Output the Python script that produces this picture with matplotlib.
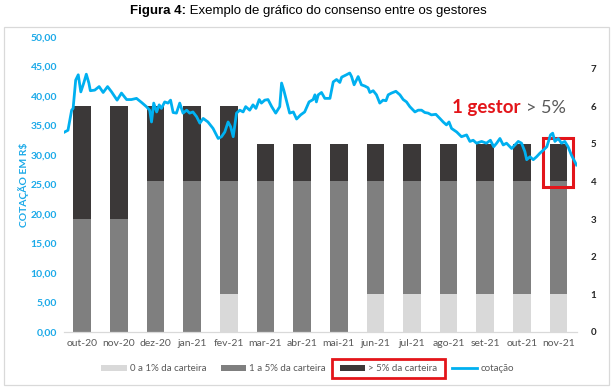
import matplotlib
matplotlib.use("Agg")
import matplotlib.pyplot as plt
from matplotlib.patches import Rectangle
import numpy as np

months = ["out-20", "nov-20", "dez-20", "jan-21", "fev-21", "mar-21", "abr-21",
          "mai-21", "jun-21", "jul-21", "ago-21", "set-21", "out-21", "nov-21"]
low = [0, 0, 0, 0, 1, 0, 0, 0, 1, 1, 1, 1, 1, 1]      # 0 a 1% da carteira
mid = [3, 3, 4, 4, 3, 4, 4, 4, 3, 3, 3, 3, 3, 3]      # 1 a 5% da carteira
high = [3, 3, 2, 2, 2, 1, 1, 1, 1, 1, 1, 1, 1, 1]     # > 5% da carteira

# cotação (time in months from out-20, price R$)
price_t = [-0.48, -0.39, -0.29, -0.25, -0.18, -0.11, -0.04, 0.04, 0.11, 0.18, 0.22,
           0.34, 0.46, 0.57, 0.69, 0.80, 0.95, 1.07, 1.21, 1.34, 1.48, 1.62, 1.75,
           1.84, 1.89, 1.95, 2.03, 2.10, 2.16, 2.25, 2.34, 2.41, 2.48, 2.57, 2.66,
           2.75, 2.85, 2.93, 3.02, 3.12, 3.21, 3.30, 3.43, 3.57, 3.71, 3.80, 3.89,
           3.98, 4.05, 4.12, 4.21, 4.30, 4.39, 4.46, 4.57, 4.66, 4.74, 4.83, 4.89,
           4.98, 5.07, 5.17, 5.28, 5.39, 5.44, 5.50, 5.57, 5.66, 5.76, 5.85, 5.96,
           6.07, 6.19, 6.30, 6.35, 6.39, 6.44, 6.53, 6.62, 6.76, 6.85, 6.94, 7.03,
           7.08, 7.21, 7.30, 7.35, 7.42, 7.53, 7.62, 7.71, 7.80, 7.85, 7.94, 8.03,
           8.12, 8.21, 8.29, 8.35, 8.44, 8.56, 8.67, 8.76, 8.85, 8.94, 9.08, 9.17,
           9.26, 9.35, 9.44, 9.53, 9.65, 9.76, 9.85, 9.94, 10.01, 10.08, 10.22,
           10.35, 10.49, 10.58, 10.67, 10.76, 10.90, 11.03, 11.14, 11.23, 11.31,
           11.40, 11.49, 11.58, 11.72, 11.81, 11.90, 11.99, 12.08, 12.13, 12.22,
           12.31, 12.40, 12.49, 12.58, 12.68, 12.78, 12.84, 12.90, 12.99, 13.08,
           13.17, 13.26, 13.35, 13.44, 13.49]
price_v = [33.9, 34.2, 37.6, 37.9, 42.7, 43.6, 40.7, 42.2, 43.7, 42.2, 40.9,
           41.0, 41.6, 40.6, 41.6, 40.7, 39.3, 40.5, 39.4, 39.4, 39.6, 38.9, 38.2,
           37.6, 35.6, 38.8, 37.3, 38.5, 37.9, 39.0, 38.8, 39.3, 37.2, 37.1, 38.8,
           37.1, 37.6, 37.1, 37.3, 36.5, 35.4, 36.2, 35.6, 34.5, 32.8, 33.1, 33.9,
           35.6, 34.8, 33.1, 37.1, 37.6, 37.3, 38.2, 37.6, 38.5, 37.9, 39.4, 38.8,
           39.3, 39.4, 38.2, 37.1, 38.2, 42.2, 41.0, 39.3, 37.1, 37.3, 36.1, 36.8,
           37.3, 39.0, 39.4, 40.2, 39.0, 40.2, 40.6, 39.6, 39.6, 42.4, 42.8, 42.3,
           43.2, 43.6, 43.9, 43.3, 41.9, 43.3, 41.9, 41.7, 41.4, 40.6, 40.9, 40.2,
           38.8, 39.3, 39.2, 40.2, 40.5, 40.8, 40.2, 39.4, 39.0, 38.2, 37.3, 37.6,
           37.6, 37.2, 37.1, 36.8, 36.9, 36.2, 35.6, 35.1, 35.6, 34.5, 33.9,
           33.1, 33.4, 32.3, 32.5, 32.0, 32.3, 32.0, 32.5, 31.4, 32.0,
           32.8, 31.7, 32.0, 31.1, 31.7, 32.3, 32.0, 30.6, 29.2, 29.7,
           29.2, 29.7, 30.3, 30.8, 31.4, 33.4, 33.7, 32.3, 32.8, 32.0,
           32.3, 31.4, 30.0, 28.9, 28.3]

c_low, c_mid, c_high = "#d9d9d9", "#7f7f7f", "#3b3838"
c_line = "#00b0f0"
txt_gray = "#595959"
FONT = ["Lato", "DejaVu Sans"]
plt.rcParams["font.family"] = FONT

fig = plt.figure(figsize=(6.15, 3.9), dpi=100)
ax = fig.add_axes([0.104, 0.149, 0.834, 0.756])   # left axis: cotação
ax2 = ax.twinx()                                   # right axis: number of managers

x = np.arange(len(months))
low_a, mid_a, high_a = np.array(low), np.array(mid), np.array(high)
w = 0.48
b1 = ax2.bar(x, low_a, w, color=c_low, label="0 a 1% da carteira", zorder=1)
b2 = ax2.bar(x, mid_a, w, bottom=low_a, color=c_mid, label="1 a 5% da carteira", zorder=1)
b3 = ax2.bar(x, high_a, w, bottom=low_a + mid_a, color=c_high, label="> 5% da carteira", zorder=1)

# line drawn on top of bars
ax.set_zorder(ax2.get_zorder() + 1)
ax.patch.set_visible(False)
ln, = ax.plot(price_t, price_v, color=c_line, lw=2.0, label="cotação",
              solid_joinstyle="round")

ax.set_xlim(-0.5, 13.5)
ax.set_ylim(0, 50)
ax2.set_ylim(0, 7.84)
ax.set_yticks(np.arange(0, 51, 5))
ax.set_yticklabels([f"{v:.2f}".replace(".", ",") for v in np.arange(0, 51, 5)])
ax2.set_yticks(range(0, 8))
ax.set_xticks(x)
ax.set_xticklabels(months)

for a in (ax, ax2):
    for s in a.spines.values():
        s.set_visible(False)
ax.spines["bottom"].set_visible(True)
ax.spines["bottom"].set_color("#d9d9d9")
ax.spines["bottom"].set_linewidth(0.9)

ax.tick_params(axis="y", length=0, pad=5, labelsize=7.5, labelcolor="#1aa9e8")
for t in ax.get_yticklabels():
    t.set_fontweight("bold")
ax.tick_params(axis="x", length=0, pad=5, labelsize=7.5, labelcolor=txt_gray)
ax2.tick_params(axis="y", length=0, pad=10, labelsize=7, labelcolor="#262626")
for t in ax2.get_yticklabels():
    t.set_fontweight("bold")

ax.set_ylabel("COTAÇÃO EM R$", color="#1aa9e8", fontsize=7.5, fontweight="bold",
              labelpad=1)

# red box around nov-21 top segment
ax2.add_patch(Rectangle((12.58, 3.86), 0.82, 1.29, fill=False, edgecolor="#e3151a",
                        lw=2.2, zorder=5))

# annotation
t1 = ax.text(10.08, 37.1, "1 gestor", color="#e3151a", fontsize=13.5,
             fontweight="bold", va="baseline", ha="left", zorder=6)
ax.annotate("> 5%", xy=(1, 0), xycoords=t1, xytext=(4, 0), textcoords="offset points",
            color="#595959", fontsize=13, va="bottom", ha="left")

# title
title_bold = "Figura 4:"
title_rest = " Exemplo de gráfico do consenso entre os gestores"
tb = fig.text(0.212, 0.972, title_bold, fontsize=9.5, fontweight="bold", ha="left",
              va="center", family=["Liberation Sans", "DejaVu Sans"])
fig.canvas.draw()
fig.text(tb.get_window_extent().x1 / fig.bbox.width, 0.972, title_rest, fontsize=9.5,
         ha="left", va="center", family=["Liberation Sans", "DejaVu Sans"])

# chart border
fig.add_artist(Rectangle((0.006, 0.013), 0.984, 0.918, transform=fig.transFigure,
                         fill=False, edgecolor="#d9d9d9", lw=0.9))

# legend
leg = fig.legend([b1, b2, b3, ln], [b1.get_label(), b2.get_label(), b3.get_label(), "cotação"],
                 loc="center", bbox_to_anchor=(0.5, 0.054), ncol=4, frameon=False,
                 fontsize=7, handlelength=2.6, handleheight=0.55, columnspacing=1.5,
                 handletextpad=0.3, labelcolor=txt_gray)
fig.canvas.draw()
# red box around "> 5% da carteira" entry
r = fig.canvas.get_renderer()
hb = leg.legend_handles[2].get_window_extent(r)
tbx = leg.get_texts()[2].get_window_extent(r)
x0, x1 = hb.x0 - 8, tbx.x1 + 8
y0, y1 = min(hb.y0, tbx.y0) - 5, max(hb.y1, tbx.y1) + 5
fig.add_artist(Rectangle((x0 / fig.bbox.width, y0 / fig.bbox.height),
                         (x1 - x0) / fig.bbox.width, (y1 - y0) / fig.bbox.height,
                         transform=fig.transFigure, fill=False, edgecolor="#e3151a", lw=2))

fig.savefig("out.png", dpi=100)
